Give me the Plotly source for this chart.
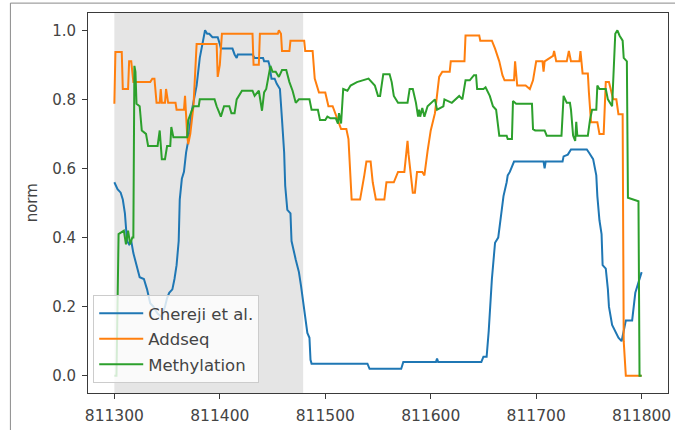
import plotly.graph_objects as go

# ---------------- data ----------------
chereji_x = [811300, 811303, 811306, 811308, 811310, 811312, 811314, 811316, 811318, 811321,
             811324, 811328, 811331, 811334, 811337, 811341, 811345, 811348, 811350, 811352,
             811355, 811357, 811359, 811361, 811362, 811364, 811366, 811368, 811370, 811373,
             811375, 811378, 811381, 811384, 811386, 811388, 811390, 811393, 811398, 811400,
             811401, 811412, 811414, 811416, 811417, 811431, 811433, 811441, 811442, 811446,
             811447, 811449, 811452, 811454, 811457, 811459, 811461, 811462, 811464, 811467,
             811468, 811472, 811475, 811477, 811480, 811483, 811485, 811486, 811487, 811540,
             811542, 811572, 811574, 811605, 811606, 811607, 811648, 811650, 811653, 811655,
             811658, 811661, 811664, 811667, 811669, 811672, 811673, 811675, 811679, 811707,
             811708, 811709, 811725, 811726, 811730, 811733, 811748, 811750, 811752, 811754,
             811757, 811758, 811760, 811762, 811763, 811766, 811768, 811769, 811772, 811775,
             811778, 811781, 811785, 811791, 811794, 811800]
chereji_y = [0.56, 0.54, 0.53, 0.51, 0.47, 0.39, 0.38, 0.39, 0.355, 0.32,
             0.285, 0.28, 0.25, 0.21, 0.20, 0.18, 0.17, 0.20, 0.225, 0.24,
             0.25, 0.28, 0.32, 0.39, 0.51, 0.57, 0.59, 0.646, 0.68, 0.76,
             0.79, 0.84, 0.92, 0.967, 1.0, 0.99, 0.99, 0.98, 0.98, 0.96,
             0.947, 0.947, 0.93, 0.92, 0.93, 0.93, 0.92, 0.92, 0.91, 0.91,
             0.90, 0.86, 0.86, 0.845, 0.83, 0.74, 0.646, 0.55, 0.48, 0.47,
             0.39, 0.336, 0.30, 0.26, 0.19, 0.124, 0.11, 0.046, 0.035, 0.035,
             0.02, 0.02, 0.04, 0.04, 0.05, 0.04, 0.04, 0.055, 0.055, 0.13,
             0.28, 0.385, 0.40, 0.47, 0.52, 0.56, 0.58, 0.59, 0.62, 0.62,
             0.60, 0.62, 0.62, 0.635, 0.64, 0.655, 0.655, 0.646, 0.635, 0.627,
             0.58, 0.52, 0.45, 0.41, 0.32, 0.31, 0.25, 0.20, 0.147, 0.13,
             0.11, 0.10, 0.16, 0.16, 0.24, 0.30]

addseq_x = [811300, 811301, 811307, 811308, 811313, 811314, 811316, 811318, 811334, 811336,
            811338, 811340, 811343, 811344, 811345, 811348, 811349, 811351, 811358, 811359,
            811366, 811367, 811369, 811370, 811372, 811375, 811378, 811397, 811398, 811400,
            811402, 811431, 811432, 811437, 811438, 811455, 811456, 811458, 811459, 811466,
            811467, 811480, 811481, 811488, 811490, 811494, 811500, 811503, 811507, 811512,
            811515, 811520, 811522, 811525, 811533, 811537, 811539, 811543, 811545, 811548,
            811556, 811558, 811565, 811569, 811575, 811576, 811578, 811579, 811583, 811585,
            811587, 811592, 811594, 811597, 811600, 811604, 811608, 811611, 811618, 811619,
            811632, 811633, 811646, 811647, 811658, 811661, 811665, 811668, 811670, 811679,
            811680, 811682, 811690, 811694, 811697, 811700, 811706, 811707, 811708, 811716,
            811717, 811719, 811729, 811731, 811733, 811741, 811742, 811744, 811749, 811750,
            811752, 811758, 811760, 811764, 811766, 811769, 811773, 811776, 811778, 811782,
            811783, 811785, 811800]
addseq_y = [0.787, 0.937, 0.937, 0.83, 0.83, 0.91, 0.91, 0.85, 0.85, 0.86,
            0.86, 0.79, 0.79, 0.83, 0.79, 0.79, 0.83, 0.79, 0.79, 0.77,
            0.77, 0.81, 0.70, 0.67, 0.70, 0.78, 0.96, 0.96, 0.865, 0.90,
            0.99, 0.99, 0.90, 0.90, 0.99, 0.99, 1.0, 0.99, 0.94, 0.94,
            0.97, 0.97, 0.94, 0.94, 0.86, 0.82, 0.82, 0.78, 0.78, 0.74,
            0.714, 0.714, 0.685, 0.51, 0.51, 0.58, 0.62, 0.62, 0.56, 0.51,
            0.51, 0.56, 0.56, 0.59, 0.59, 0.62, 0.68, 0.64, 0.53, 0.53,
            0.59, 0.59, 0.58, 0.65, 0.71, 0.76, 0.865, 0.88, 0.88, 0.91,
            0.91, 0.985, 0.985, 0.97, 0.97, 0.947, 0.91, 0.87, 0.855, 0.855,
            0.91, 0.84, 0.84, 0.83, 0.855, 0.91, 0.91, 0.88, 0.91, 0.926,
            0.94, 0.91, 0.91, 0.94, 0.91, 0.91, 0.94, 0.875, 0.875, 0.82,
            0.734, 0.734, 0.70, 0.70, 0.85, 0.85, 0.80, 0.80, 0.757, 0.757,
            0.10, 0.0, 0.0]

methyl_x = [811300, 811302, 811304, 811309, 811311, 811313, 811315, 811317, 811318, 811319,
            811320, 811321, 811324, 811326, 811330, 811332, 811341, 811343, 811345, 811348,
            811350, 811353, 811354, 811356, 811369, 811370, 811375, 811380, 811381, 811395,
            811397, 811401, 811404, 811409, 811411, 811414, 811416, 811421, 811431, 811433,
            811437, 811440, 811442, 811444, 811448, 811450, 811453, 811456, 811459, 811463,
            811466, 811469, 811472, 811475, 811485, 811487, 811493, 811495, 811500, 811502,
            811505, 811510, 811512, 811513, 811515, 811517, 811521, 811524, 811530, 811536,
            811541, 811547, 811550, 811552, 811555, 811561, 811563, 811565, 811567, 811569,
            811578, 811580, 811583, 811586, 811588, 811589, 811590, 811592, 811594, 811597,
            811604, 811606, 811612, 811613, 811620, 811624, 811627, 811630, 811633, 811637,
            811641, 811643, 811644, 811650, 811652, 811656, 811659, 811662, 811665, 811672,
            811673, 811677, 811678, 811681, 811696, 811697, 811699, 811708, 811710, 811724,
            811726, 811729, 811732, 811733, 811735, 811737, 811738, 811739, 811749, 811751,
            811753, 811757, 811758, 811760, 811766, 811768, 811772, 811775, 811777, 811779,
            811782, 811783, 811786, 811787, 811797, 811798, 811800]
methyl_y = [0.0, 0.0, 0.41, 0.42, 0.38, 0.42, 0.38, 0.40, 0.40, 0.897,
            0.88, 0.787, 0.78, 0.71, 0.70, 0.665, 0.665, 0.71, 0.627, 0.627,
            0.665, 0.665, 0.72, 0.69, 0.69, 0.74, 0.78, 0.78, 0.80, 0.80,
            0.78, 0.75, 0.78, 0.78, 0.76, 0.76, 0.80, 0.825, 0.825, 0.81,
            0.825, 0.767, 0.82, 0.83, 0.897, 0.88, 0.88, 0.865, 0.885, 0.885,
            0.85, 0.825, 0.79, 0.80, 0.80, 0.77, 0.77, 0.74, 0.74, 0.75,
            0.745, 0.745, 0.73, 0.76, 0.73, 0.83, 0.825, 0.84, 0.85, 0.855,
            0.86, 0.84, 0.81, 0.81, 0.873, 0.873, 0.85, 0.81, 0.80, 0.79,
            0.79, 0.83, 0.83, 0.79, 0.75, 0.77, 0.75, 0.775, 0.75, 0.78,
            0.80, 0.77, 0.78, 0.80, 0.79, 0.80, 0.81, 0.80, 0.855, 0.855,
            0.87, 0.87, 0.83, 0.83, 0.835, 0.81, 0.78, 0.77, 0.695, 0.695,
            0.685, 0.685, 0.795, 0.787, 0.787, 0.714, 0.71, 0.71, 0.695, 0.695,
            0.81, 0.79, 0.79, 0.77, 0.695, 0.68, 0.735, 0.695, 0.695, 0.74,
            0.77, 0.77, 0.84, 0.83, 0.83, 0.80, 0.78, 0.99, 1.0, 0.985,
            0.97, 0.92, 0.91, 0.515, 0.505, 0.0, 0.0]

series_names = ["Chereji et al.", "Addseq", "Methylation"]
series_colors = ["#1f77b4", "#ff7f0e", "#2ca02c"]

x_ticks = [811300, 811400, 811500, 811600, 811700, 811800]
y_ticks = [0.0, 0.2, 0.4, 0.6, 0.8, 1.0]
shade_range = [811300, 811479]

# ---------------- figure ----------------
FONT = "DejaVu Sans"
TXT = "#444444"
fig = go.Figure()
for name, xs, ys, col in zip(series_names,
                             [chereji_x, addseq_x, methyl_x],
                             [chereji_y, addseq_y, methyl_y],
                             series_colors):
    fig.add_trace(go.Scatter(x=xs, y=ys, mode="lines", name=name, legendgroup=name,
                             line=dict(color=col, width=2)))

fig.add_vrect(x0=shade_range[0], x1=shade_range[1], fillcolor="#dcdcdc",
              opacity=0.75, line_width=0, layer="below")

axis_common = dict(showline=True, mirror=True, linecolor="#3a3a3a", linewidth=1,
                   ticks="outside", ticklen=5, tickcolor="#3a3a3a", showgrid=False,
                   zeroline=False, ticklabelstandoff=3, ticklabeloverflow="allow")

fig.update_xaxes(range=[811275, 811825], tickvals=x_ticks,
                 ticktext=[str(v) for v in x_ticks],
                 tickfont=dict(family=FONT, size=15.5, color=TXT), **axis_common)
fig.update_yaxes(range=[-0.05, 1.05], tickvals=y_ticks, tickformat=".1f",
                 tickfont=dict(family=FONT, size=15, color=TXT), **axis_common)

fig.add_annotation(text="norm", xref="paper", yref="paper", x=-0.096, y=0.5,
                   textangle=-90, showarrow=False, xanchor="center", yanchor="middle",
                   font=dict(family=FONT, size=15, color=TXT))

# outer frame of the screenshot
fig.add_shape(type="rect", xref="paper", yref="paper",
              x0=-0.1338, x1=1.2, y0=-0.2, y1=1.026,
              line=dict(color="#8a8a8a", width=1), fillcolor="rgba(0,0,0,0)")

fig.update_layout(
    width=675, height=430,
    margin=dict(l=88, r=4, t=13, b=37),
    paper_bgcolor="white", plot_bgcolor="white",
    font=dict(family=FONT, size=15, color=TXT),
    showlegend=True,
    legend=dict(x=0.009, y=0.026, xanchor="left", yanchor="bottom",
                bgcolor="rgba(255,255,255,0.8)", bordercolor="#cccccc", borderwidth=1,
                font=dict(family=FONT, size=16.5, color=TXT),
                tracegroupgap=1, itemwidth=44),
)

fig.write_html("out.html")
